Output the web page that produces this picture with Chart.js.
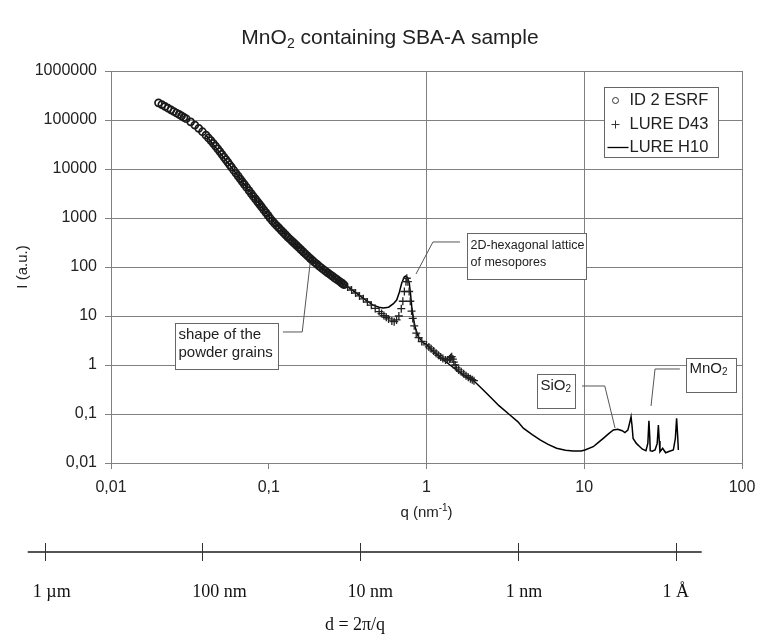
<!DOCTYPE html>
<html>
<head>
<meta charset="utf-8">
<title>MnO2 containing SBA-A sample</title>
<script src="https://cdn.jsdelivr.net/npm/chart.js@4.4.1/dist/chart.umd.min.js"></script>
<style>
  html, body { margin: 0; padding: 0; background: #fff; }
  #chart { display: block; }
</style>
</head>
<body>
<canvas id="chart" width="757" height="641"></canvas>
<script>
// ID 2 ESRF (open circles), q in nm^-1, I in a.u.
const esrfQ = [0.020, 0.021, 0.022, 0.023, 0.024, 0.025, 0.026, 0.027, 0.028, 0.029, 0.030, 0.032, 0.034, 0.036, 0.038,
  0.040, 0.0415, 0.043, 0.0445, 0.046, 0.0475, 0.049, 0.0505, 0.052, 0.0535, 0.055, 0.0565, 0.058, 0.060, 0.062,
  0.064, 0.066, 0.068, 0.070, 0.0725, 0.075, 0.0775, 0.080, 0.0825, 0.085, 0.0875, 0.090, 0.093, 0.096, 0.099,
  0.102, 0.1055, 0.109, 0.1125, 0.116, 0.120, 0.124, 0.128, 0.132, 0.1365, 0.141, 0.1455, 0.150, 0.155, 0.160,
  0.1655, 0.171, 0.177, 0.183, 0.189, 0.195, 0.2015, 0.208, 0.215, 0.222, 0.2295, 0.237, 0.245, 0.253, 0.2615,
  0.270, 0.279, 0.288, 0.294, 0.300];
const esrfI = [224000, 206000, 189000, 174000, 161000, 149000, 139000, 130000, 121000, 113500, 106000, 91600, 78700, 67600, 57700,
  49000, 43000, 38000, 33400, 29400, 25800, 22700, 19900, 17500, 15500, 13800, 12200, 10900, 9450, 8180,
  7130, 6250, 5500, 4860, 4200, 3630, 3150, 2750, 2420, 2140, 1900, 1690, 1470, 1290, 1130,
  990, 870, 774, 695, 628, 560, 504, 452, 408, 368, 333, 303, 277, 250, 226,
  204, 184, 166, 150, 137, 125, 115, 105, 96.5, 88.9, 82.0, 75.7, 70.2, 65.0, 60.2,
  55.8, 51.8, 48.0, 45.6, 43.4];

// LURE D43 (crosses)
const d43Q = [0.064, 0.068, 0.0725, 0.0775, 0.0825, 0.0875, 0.093, 0.099, 0.1055, 0.1125, 0.120, 0.128, 0.1365, 0.1455, 0.155,
  0.1655, 0.177, 0.189, 0.200, 0.211, 0.224, 0.237, 0.251, 0.266, 0.282, 0.299, 0.316, 0.335, 0.355, 0.376,
  0.398, 0.422, 0.447, 0.473, 0.501, 0.519, 0.537, 0.556, 0.575, 0.603, 0.624, 0.646, 0.668, 0.692, 0.708,
  0.724, 0.741, 0.750, 0.762, 0.776, 0.789, 0.804, 0.818, 0.836, 0.861, 0.891, 0.933, 1.00, 1.035, 1.07,
  1.11, 1.15, 1.19, 1.23, 1.27, 1.32, 1.36, 1.40, 1.42, 1.445, 1.47, 1.49, 1.52, 1.55, 1.60,
  1.66, 1.72, 1.78, 1.84, 1.90, 1.95, 2.00];
const d43I = [7130, 5500, 4200, 3150, 2420, 1900, 1470, 1130, 870, 695, 560, 452, 368, 303, 250,
  204, 166, 137, 117, 102, 88.1, 76.2, 66.1, 57.5, 50.1, 44.2, 38.9, 33.9, 29.5, 25.7,
  22.4, 19.3, 16.6, 14.3, 12.3, 11.2, 10.2, 9.44, 8.71, 7.94, 7.66, 8.32, 10.0, 14.1, 20.0,
  31.6, 50.1, 58.9, 50.1, 31.6, 20.0, 12.6, 8.91, 6.31, 4.47, 3.63, 3.02, 2.57, 2.34, 2.14,
  1.93, 1.74, 1.58, 1.45, 1.35, 1.26, 1.27, 1.32, 1.41, 1.48, 1.32, 1.15, 1.0, 0.871, 0.794,
  0.724, 0.661, 0.603, 0.562, 0.525, 0.501, 0.479];

// LURE H10 (line)
const h10Q = [0.040, 0.050, 0.060, 0.070, 0.080, 0.090, 0.100, 0.126, 0.158, 0.200, 0.251, 0.316, 0.398, 0.458, 0.500,
  0.532, 0.575, 0.617, 0.647, 0.672, 0.696, 0.724, 0.741, 0.759, 0.778, 0.792, 0.806, 0.826, 0.846, 0.887,
  0.955, 1.00, 1.10, 1.26, 1.41, 1.58, 1.80, 1.97, 2.24, 2.53, 2.88, 3.38, 3.80, 4.11, 4.68,
  5.25, 5.90, 6.68, 7.60, 8.50, 9.55, 10.1, 11.4, 12.3, 13.2, 14.3, 15.3, 16.3, 17.4, 18.1,
  18.9, 19.5, 19.8, 20.1, 20.4, 21.4, 22.5, 23.4, 24.6, 25.3, 25.7, 26.0, 26.2, 27.0, 28.1,
  29.0, 29.5, 29.9, 30.2, 31.4, 32.8, 34.7, 36.7, 37.8, 38.5, 39.1, 39.5];
const h10I = [49000, 19900, 9450, 4860, 2750, 1690, 1080, 479, 236, 117, 66.1, 39.8, 22.9, 16.7, 15.1,
  14.6, 15.1, 17.8, 21.2, 30.2, 46.5, 63.1, 65.5, 60.3, 46.5, 28.2, 15.5, 8.9, 6.03, 3.78,
  2.82, 2.63, 1.91, 1.32, 1.0, 0.759, 0.569, 0.494, 0.331, 0.225, 0.148, 0.0955, 0.0692, 0.0513, 0.038,
  0.0295, 0.024, 0.020, 0.0182, 0.0176, 0.0176, 0.0184, 0.0215, 0.0263, 0.0319, 0.0398, 0.0471, 0.049, 0.0457, 0.0417,
  0.0468, 0.0708, 0.088, 0.0562, 0.0316, 0.0251, 0.0215, 0.0191, 0.0178, 0.0251, 0.073, 0.0355, 0.0178, 0.0174, 0.0184,
  0.0251, 0.0597, 0.0282, 0.017, 0.020, 0.0162, 0.0174, 0.0184, 0.0316, 0.0817, 0.0355, 0.0184];

const seriesNames = ['ID 2 ESRF', 'LURE D43', 'LURE H10'];

const qTicks = [0.01, 0.1, 1, 10, 100];
const qTickLabels = ['0,01', '0,1', '1', '10', '100'];
const iTicks = [0.01, 0.1, 1, 10, 100, 1000, 10000, 100000, 1000000];
const iTickLabels = ['0,01', '0,1', '1', '10', '100', '1000', '10000', '100000', '1000000'];

// second scale, d = 2pi/q, drawn under the q axis
const dLabels = ['1 µm', '100 nm', '10 nm', '1 nm', '1 Å'];
const dTickQ = [0.0038, 0.038, 0.38, 3.8, 38];

// text boxes: rich text lines, box corners and leader path in (q, I)
const callouts = [
  { lines: [[['shape of the', '']], [['powder grains', '']]], from: [0.0255, 7.2], to: [0.1145, 0.83],
    leader: [[0.123, 4.72], [0.163, 4.72], [0.183, 120]], size: 15, top: 11, step: 18 },
  { lines: [[['2D-hexagonal lattice', '']], [['of mesopores', '']]], from: [1.806, 494], to: [10.3, 56.9],
    leader: [[1.63, 324], [1.099, 324], [0.858, 72]], size: 12.5, top: 12, step: 17 },
  { lines: [[['SiO', ''], ['2', 'sub']]], from: [5.02, 0.655], to: [8.74, 0.1326],
    leader: [[9.68, 0.373], [13.5, 0.373], [15.67, 0.0518]], size: 15, top: 11, step: 18 },
  { lines: [[['MnO', ''], ['2', 'sub']]], from: [44.2, 1.39], to: [91.6, 0.281],
    leader: [[40.4, 0.829], [28.1, 0.829], [26.5, 0.1457]], size: 15, top: 10, step: 18 },
];

const SANS = '"Liberation Sans", Arial, sans-serif';
const SERIF = '"Liberation Serif", "Times New Roman", serif';
const GRID = '#808080';
const INK = '#222';

const toPoints = (qs, is) => qs.map((q, i) => ({ x: q, y: is[i] }));

function partFont(size, mode, family) {
  return (mode ? Math.round(size * 0.68) : size) + 'px ' + family;
}
function richWidth(ctx, parts, size, family) {
  let w = 0;
  parts.forEach(([t, m]) => { ctx.font = partFont(size, m, family); w += ctx.measureText(t).width; });
  return w;
}
function richText(ctx, parts, x, y, size, align, family) {
  let cx = align === 'center' ? x - richWidth(ctx, parts, size, family) / 2 : x;
  ctx.textAlign = 'left';
  ctx.textBaseline = 'middle';
  parts.forEach(([t, m]) => {
    ctx.font = partFont(size, m, family);
    const dy = m === 'sub' ? size * 0.28 : m === 'sup' ? -size * 0.32 : 0;
    ctx.fillText(t, cx, y + dy);
    cx += ctx.measureText(t).width;
  });
}

const decor = {
  id: 'decor',
  afterDatasetsDraw(chart) {
    const { ctx, chartArea, scales: { x, y } } = chart;
    ctx.save();
    ctx.fillStyle = INK;

    // title
    richText(ctx, [['MnO', ''], ['2', 'sub'], [' containing SBA-A sample', '']], 390, 38, 21, 'center', SANS);

    // q axis title
    richText(ctx, [['q (nm', ''], ['-1', 'sup'], [')', '']], x.getPixelForValue(1), 513, 15, 'center', SANS);

    // callouts
    ctx.lineWidth = 1;
    callouts.forEach(c => {
      const x1 = Math.round(x.getPixelForValue(c.from[0])) + 0.5;
      const y1 = Math.round(y.getPixelForValue(c.from[1])) + 0.5;
      const x2 = Math.round(x.getPixelForValue(c.to[0])) + 0.5;
      const y2 = Math.round(y.getPixelForValue(c.to[1])) + 0.5;
      ctx.fillStyle = '#fff';
      ctx.fillRect(x1, y1, x2 - x1, y2 - y1);
      ctx.strokeStyle = '#666';
      ctx.strokeRect(x1, y1, x2 - x1, y2 - y1);
      ctx.fillStyle = INK;
      c.lines.forEach((l, i) => richText(ctx, l, x1 + 3, y1 + c.top + i * c.step, c.size, 'left', SANS));
      ctx.strokeStyle = '#555';
      ctx.beginPath();
      c.leader.forEach(([q, v], i) => {
        const lx = x.getPixelForValue(q), ly = y.getPixelForValue(v);
        if (i) ctx.lineTo(lx, ly); else ctx.moveTo(lx, ly);
      });
      ctx.stroke();
    });

    // legend
    const lw = 114, lh = 70;
    const lx = Math.round(chartArea.right - 24 - lw) + 0.5, ly = Math.round(chartArea.top + 16) + 0.5;
    ctx.fillStyle = '#fff';
    ctx.fillRect(lx, ly, lw, lh);
    ctx.strokeStyle = '#666';
    ctx.strokeRect(lx, ly, lw, lh);
    const rows = [13, 37, 60];
    ctx.strokeStyle = '#333';
    ctx.beginPath();
    ctx.arc(lx + 11, ly + rows[0], 3, 0, Math.PI * 2);
    ctx.stroke();
    ctx.beginPath();
    ctx.moveTo(lx + 7, ly + rows[1]); ctx.lineTo(lx + 15, ly + rows[1]);
    ctx.moveTo(lx + 11, ly + rows[1] - 4); ctx.lineTo(lx + 11, ly + rows[1] + 4);
    ctx.stroke();
    ctx.strokeStyle = '#000';
    ctx.lineWidth = 1.3;
    ctx.beginPath();
    ctx.moveTo(lx + 3, ly + rows[2]); ctx.lineTo(lx + 24, ly + rows[2]);
    ctx.stroke();
    ctx.fillStyle = INK;
    ctx.font = '16.5px ' + SANS;
    ctx.textAlign = 'left';
    ctx.textBaseline = 'middle';
    seriesNames.forEach((n, i) => ctx.fillText(n, lx + 25, ly + rows[i]));

    // d = 2pi/q scale
    const ticksPx = dTickQ.map(q => x.getPixelForValue(q));
    const sy = 552;
    ctx.strokeStyle = '#555';
    ctx.lineWidth = 2;
    ctx.beginPath();
    ctx.moveTo(ticksPx[0] - 17, sy); ctx.lineTo(ticksPx[ticksPx.length - 1] + 26, sy);
    ctx.stroke();
    ctx.lineWidth = 1;
    ctx.strokeStyle = '#333';
    ctx.beginPath();
    ticksPx.forEach(px => { ctx.moveTo(Math.round(px) + 0.5, sy - 9); ctx.lineTo(Math.round(px) + 0.5, sy + 9); });
    ctx.stroke();
    const labelShift = [7, 17, 10, 6, 0];
    ctx.fillStyle = '#111';
    ctx.font = '18px ' + SERIF;
    ctx.textAlign = 'center';
    ctx.textBaseline = 'middle';
    dLabels.forEach((t, i) => ctx.fillText(t, ticksPx[i] + labelShift[i], 592));
    ctx.fillText('d = 2π/q', 355, 625);
    ctx.restore();
  }
};

Chart.defaults.font.family = SANS;
Chart.defaults.color = INK;

new Chart(document.getElementById('chart'), {
  type: 'scatter',
  data: {
    datasets: [
      {
        label: seriesNames[0],
        data: toPoints(esrfQ, esrfI),
        pointStyle: 'circle',
        pointRadius: 3.5,
        pointBorderWidth: 1.7,
        pointBorderColor: '#1a1a1a',
        pointBackgroundColor: 'rgba(0,0,0,0)',
        showLine: false,
      },
      {
        label: seriesNames[1],
        data: toPoints(d43Q, d43I),
        pointStyle: 'cross',
        pointRadius: 4,
        pointBorderWidth: 1.3,
        pointBorderColor: '#222',
        showLine: false,
      },
      {
        label: seriesNames[2],
        data: toPoints(h10Q, h10I),
        showLine: true,
        pointRadius: 0,
        borderColor: '#000',
        borderWidth: 1.5,
        tension: 0,
      },
    ],
  },
  options: {
    responsive: false,
    animation: false,
    devicePixelRatio: 1,
    layout: { padding: { left: 0, right: 0, top: 71, bottom: 117 } },
    plugins: {
      legend: { display: false },
      tooltip: { enabled: false },
    },
    scales: {
      x: {
        type: 'logarithmic',
        min: 0.01,
        max: 100,
        afterBuildTicks: (s) => { s.ticks = qTicks.map(v => ({ value: v })); },
        afterFit: (s) => { s.height = 61; s.paddingRight = 15; },
        grid: {
          color: (c) => (c.tick && [1, 10, 100].includes(c.tick.value) ? GRID : 'rgba(0,0,0,0)'),
          tickColor: GRID,
          tickLength: 6,
          lineWidth: 1,
        },
        border: { color: GRID, width: 1 },
        ticks: {
          autoSkip: false,
          maxRotation: 0,
          padding: 9,
          font: { size: 16 },
          callback: (v) => qTickLabels[qTicks.indexOf(v)] ?? '',
        },
        title: { display: false },
      },
      y: {
        type: 'logarithmic',
        min: 0.01,
        max: 1000000,
        afterBuildTicks: (s) => { s.ticks = iTicks.map(v => ({ value: v })); },
        afterFit: (s) => { s.width = 111; },
        grid: { color: GRID, tickColor: GRID, tickLength: 6, lineWidth: 1 },
        border: { color: GRID, width: 1 },
        ticks: {
          autoSkip: false,
          padding: 8,
          font: { size: 16 },
          callback: (v) => iTickLabels[iTicks.indexOf(v)] ?? '',
        },
        title: { display: true, text: 'I (a.u.)', font: { size: 15 }, padding: { top: 14, bottom: 0 } },
      },
    },
  },
  plugins: [decor],
});
</script>
</body>
</html>
